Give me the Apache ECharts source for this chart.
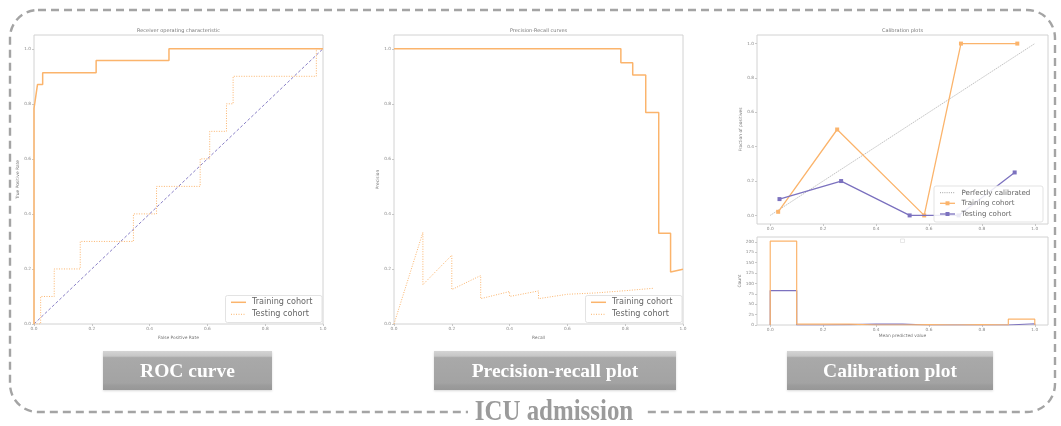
<!DOCTYPE html>
<html><head><meta charset="utf-8">
<script src="https://cdn.jsdelivr.net/npm/echarts@6/dist/echarts.min.js"></script>
<style>html,body{margin:0;padding:0;background:#fff}#c{width:1061px;height:426px}</style>
</head><body><div id="c"></div>
<script>
// ---------- DATA ----------
const rocTrainFpr = [0, 0, 0.006, 0.006, 0.012, 0.012, 0.03, 0.03, 0.215, 0.215, 0.467, 0.467, 1];
const rocTrainTpr = [0, 0.783, 0.783, 0.826, 0.826, 0.87, 0.87, 0.913, 0.913, 0.957, 0.957, 1, 1];
const rocTestFpr = [0, 0.023, 0.023, 0.07, 0.07, 0.16, 0.16, 0.344, 0.344, 0.424, 0.424, 0.575, 0.575, 0.608, 0.608, 0.666, 0.666, 0.689, 0.689, 0.977, 0.977, 1];
const rocTestTpr = [0, 0, 0.1, 0.1, 0.2, 0.2, 0.3, 0.3, 0.4, 0.4, 0.5, 0.5, 0.6, 0.6, 0.7, 0.7, 0.8, 0.8, 0.9, 0.9, 1, 1];
const chanceX = [0, 1];
const chanceY = [0, 1];

const prTrainRecall = [0, 0.785, 0.785, 0.826, 0.826, 0.871, 0.871, 0.916, 0.916, 0.957, 0.957, 1.0];
const prTrainPrecision = [1, 1, 0.949, 0.949, 0.905, 0.905, 0.768, 0.768, 0.33, 0.33, 0.189, 0.199];
const prTestRecall = [0, 0.1, 0.1, 0.2, 0.2, 0.3, 0.3, 0.4, 0.4, 0.5, 0.5, 0.6, 0.6, 0.7, 0.8, 0.8, 0.9];
const prTestPrecision = [0, 0.333, 0.143, 0.25, 0.125, 0.176, 0.092, 0.118, 0.1, 0.12, 0.092, 0.108, 0.103, 0.113, 0.121, 0.117, 0.13];

const calTrainPred = [0.03, 0.253, 0.582, 0.721, 0.934];
const calTrainTrue = [0.021, 0.5, 0.0, 1.0, 1.0];
const calTestPred = [0.035, 0.268, 0.527, 0.712, 0.924];
const calTestTrue = [0.095, 0.2, 0.0, 0.0, 0.25];

const histEdges = [0, 0.1, 0.2, 0.3, 0.4, 0.5, 0.6, 0.7, 0.8, 0.9, 1.0];
const histTrain = [202, 2, 2, 0, 0, 1, 0, 1, 0, 14];
const histTest = [83, 0, 1, 2, 2, 0, 0, 0, 0, 3];

const unitTicks = [0, 0.2, 0.4, 0.6, 0.8, 1.0];
const countTicks = [0, 25, 50, 75, 100, 125, 150, 175, 200];

// ---------- STYLE ----------
const ORANGE = '#fbb46c';
const PURPLE = '#7c72bf';
const FONT = 'DejaVu Sans';
const TICKC = '#8a8a8a';

const zip = (a, b) => a.map((v, i) => [v, b[i]]);
function histOutline(edges, counts) {
  const pts = [[edges[0], 0]];
  counts.forEach((c, i) => { pts.push([edges[i], c], [edges[i + 1], c]); });
  pts.push([edges[edges.length - 1], 0]);
  return pts;
}

const grids = [
  {left: 34, top: 35, width: 289, height: 289},
  {left: 394, top: 35, width: 289, height: 289},
  {left: 757, top: 35, width: 291, height: 189},
  {left: 757, top: 237, width: 291, height: 88}
].map(g => Object.assign({show: true, borderColor: '#d2d2d2', borderWidth: 1, backgroundColor: 'transparent'}, g));

function axis(gi, min, max, ticks, name, gap, isY, digits) {
  return {
    type: 'value', gridIndex: gi, min: min, max: max,
    position: isY ? 'left' : 'bottom',
    name: name, nameLocation: 'middle', nameGap: gap,
    nameTextStyle: {fontFamily: FONT, fontSize: 4.4, color: '#777'},
    axisLine: {show: false, onZero: false},
    axisTick: {show: true, length: 2, customValues: ticks, lineStyle: {color: '#bbb', width: 0.8}},
    axisLabel: {show: true, customValues: ticks, fontFamily: FONT, fontSize: 4.3, color: TICKC, margin: 3,
      formatter: v => Number(v).toFixed(digits)},
    splitLine: {show: false}
  };
}

const xAxes = [
  axis(0, 0, 1, unitTicks, 'False Positive Rate', 8, false, 1),
  axis(1, 0, 1, unitTicks, 'Recall', 8, false, 1),
  axis(2, -0.05, 1.05, unitTicks, '', 8, false, 1),
  axis(3, -0.05, 1.05, unitTicks, 'Mean predicted value', 9, false, 1)
];
const yAxes = [
  axis(0, 0, 1.05, unitTicks, 'True Positive Rate', 13, true, 1),
  axis(1, 0, 1.05, unitTicks, 'Precision', 13, true, 1),
  axis(2, -0.05, 1.05, unitTicks, 'Fraction of positives', 14, true, 1),
  axis(3, 0, 212, countTicks, 'Count', 14, true, 0)
];

function lineSeries(name, gi, data, color, width, type, z, extra) {
  return Object.assign({
    type: 'line', name: name, xAxisIndex: gi, yAxisIndex: gi, data: data,
    showSymbol: false, symbol: 'none', silent: true, z: z || 2,
    lineStyle: {color: color, width: width, type: type || 'solid'},
    itemStyle: {color: color}
  }, extra || {});
}

const series = [
  lineSeries('Chance', 0, zip(chanceX, chanceY), PURPLE, 0.9, [3, 2], 2),
  lineSeries('Training cohort', 0, zip(rocTrainFpr, rocTrainTpr), ORANGE, 1.5, 'solid', 3),
  lineSeries('Testing cohort', 0, zip(rocTestFpr, rocTestTpr), ORANGE, 1, [1, 1.5], 3),
  lineSeries('Training cohort', 1, zip(prTrainRecall, prTrainPrecision), ORANGE, 1.5, 'solid', 3),
  lineSeries('Testing cohort', 1, zip(prTestRecall, prTestPrecision), ORANGE, 1, [1, 1.5], 3),
  lineSeries('Perfectly calibrated', 2, zip(chanceX, chanceY), '#a8a8a8', 0.7, [1.5, 0.8], 2),
  lineSeries('Training cohort', 2, zip(calTrainPred, calTrainTrue), ORANGE, 1.3, 'solid', 3,
    {showSymbol: true, symbol: 'rect', symbolSize: 4}),
  lineSeries('Testing cohort', 2, zip(calTestPred, calTestTrue), PURPLE, 1.3, 'solid', 4,
    {showSymbol: true, symbol: 'rect', symbolSize: 4}),
  lineSeries('Testing hist', 3, histOutline(histEdges, histTest), PURPLE, 1.2, 'solid', 3),
  lineSeries('Training hist', 3, histOutline(histEdges, histTrain), ORANGE, 1.2, 'solid', 4)
];

// ---------- DECORATION ----------
const g = [];
function txt(x, y, s, size, color, opts) {
  g.push(Object.assign({type: 'text', x: x, y: y, z: 20,
    style: Object.assign({text: s, fontFamily: FONT, fontSize: size, fill: color,
      textAlign: 'left', textVerticalAlign: 'middle'}, (opts && opts.style) || {})},
    (opts && opts.el) || {}));
}
// titles
txt(178.5, 31, 'Receiver operating characteristic', 5, '#777', {style: {textAlign: 'center'}});
txt(538.5, 31, 'Precision-Recall curves', 5, '#777', {style: {textAlign: 'center'}});
txt(902.5, 31, 'Calibration plots', 5, '#777', {style: {textAlign: 'center'}});

// legend boxes
function legendBox(x, y, w, h) {
  g.push({type: 'rect', z: 15, shape: {x: x, y: y, width: w, height: h, r: 2},
    style: {fill: 'rgba(255,255,255,0.85)', stroke: '#dcdcdc', lineWidth: 0.8}});
}
function legendLine(x1, x2, y, color, width, dash) {
  g.push({type: 'line', z: 16, shape: {x1: x1, y1: y, x2: x2, y2: y},
    style: {stroke: color, lineWidth: width, lineDash: dash || null}});
}
function legendSquare(cx, cy, color) {
  g.push({type: 'rect', z: 17, shape: {x: cx - 2, y: cy - 2, width: 4, height: 4}, style: {fill: color}});
}
const LEGC = '#666666';
// ROC legend
legendBox(225.5, 295.5, 96.5, 27);
legendLine(231, 246, 302.3, ORANGE, 1.5);
txt(252, 302.3, 'Training cohort', 8.1, LEGC);
legendLine(231, 246, 314.3, ORANGE, 1, [1, 1.5]);
txt(252, 314.3, 'Testing cohort', 8.1, LEGC);
// PR legend
legendBox(585.5, 295.5, 96.5, 27);
legendLine(591, 606, 302.3, ORANGE, 1.5);
txt(612, 302.3, 'Training cohort', 8.1, LEGC);
legendLine(591, 606, 314.3, ORANGE, 1, [1, 1.5]);
txt(612, 314.3, 'Testing cohort', 8.1, LEGC);
// Calibration legend
legendBox(934, 186, 109, 36);
legendLine(940, 955, 192.7, '#999', 0.9, [1, 1.2]);
txt(961.5, 192.7, 'Perfectly calibrated', 7.1, LEGC);
legendLine(940, 955, 203.3, ORANGE, 1.3);
legendSquare(947.5, 203.3, ORANGE);
txt(961.5, 203.3, 'Training cohort', 7.1, LEGC);
legendLine(940, 955, 214, PURPLE, 1.3);
legendSquare(947.5, 214, PURPLE);
txt(961.5, 214, 'Testing cohort', 7.1, LEGC);
// empty histogram legend
g.push({type: 'rect', z: 15, shape: {x: 900.5, y: 239, width: 4, height: 3.5},
  style: {fill: '#fff', stroke: '#dedede', lineWidth: 0.7}});

// outer dashed frame
g.push({type: 'rect', z: 1, shape: {x: 10, y: 10, width: 1045, height: 402, r: 28},
  style: {fill: null, stroke: '#a4a4a4', lineWidth: 2.4, lineDash: [8, 5]}});
g.push({type: 'rect', z: 2, shape: {x: 468, y: 398, width: 175, height: 28}, style: {fill: '#fff'}});
g.push({type: 'text', z: 3, x: 554, y: 412, scaleX: 0.83,
  style: {text: 'ICU admission', fontFamily: 'Liberation Serif', fontWeight: 'bold', fontSize: 30,
    fill: '#9b9b9b', textAlign: 'center', textVerticalAlign: 'middle'}});

// label buttons
function button(x1, x2, y1, y2, label) {
  const grad = new echarts.graphic.LinearGradient(0, 0, 0, 1, [
    {offset: 0, color: '#d4d4d4'}, {offset: 0.13, color: '#c6c6c6'},
    {offset: 0.17, color: '#a9a9a9'}, {offset: 0.82, color: '#a3a3a3'},
    {offset: 0.88, color: '#9c9c9c'}, {offset: 1, color: '#979797'}]);
  g.push({type: 'rect', z: 5, shape: {x: x1, y: y1, width: x2 - x1, height: y2 - y1},
    style: {fill: grad, shadowBlur: 2, shadowColor: 'rgba(0,0,0,0.15)', shadowOffsetY: 1}});
  g.push({type: 'text', z: 6, x: (x1 + x2) / 2, y: (y1 + y2) / 2 + 1,
    style: {text: label, fontFamily: 'Liberation Serif', fontWeight: 'bold', fontSize: 19.5,
      fill: '#ffffff', textAlign: 'center', textVerticalAlign: 'middle'}});
}
button(103, 272, 351, 390, 'ROC curve');
button(434, 676, 351, 390, 'Precision-recall plot');
button(787, 993, 351, 390, 'Calibration plot');

const chart = echarts.init(document.getElementById('c'), null, {renderer: 'canvas'});
chart.setOption({
  animation: false,
  backgroundColor: '#ffffff',
  grid: grids,
  xAxis: xAxes,
  yAxis: yAxes,
  series: series,
  graphic: g
});
</script>
</body></html>
